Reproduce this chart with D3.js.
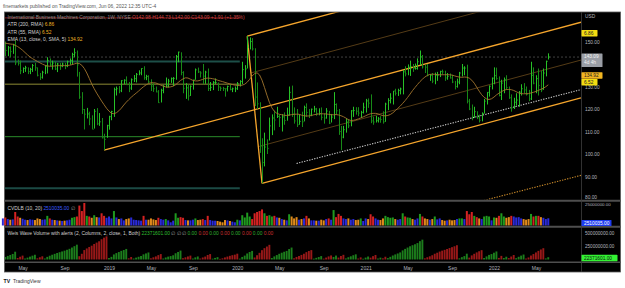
<!DOCTYPE html>
<html><head><meta charset="utf-8">
<script src="https://cdn.jsdelivr.net/npm/d3@7"></script>
<style>html,body{margin:0;padding:0;background:#fff;overflow:hidden}svg{display:block}text{font-family:"Liberation Sans",Arial,sans-serif}</style>
</head><body><svg id="c" width="625" height="288"></svg>
<script>
// ---------------- DATA ----------------
const startWeek = "2018-03-12";
const high2018 = [153.5,150.0,148.0,147.8,149.0,150.5,142.0,141.5,138.5,139.2,138.5,138.3,140.0,140.5,138.5,136.0,137.0,139.5,143.0,142.5,141.5,141.0,140.5,140.5,140.6,140.5,141.5,142.5,145.0,147.0,146.0,136.5,127.5,120.0,120.5,118.8,117.2,120.0,120.4,118.2,116.0,109.0,113.0];
const low2018  = [148.5,143.5,143.5,143.0,144.5,139.5,139.3,135.5,136.0,136.5,135.5,135.5,136.5,137.0,134.5,132.9,133.5,135.5,135.8,139.0,137.5,137.3,136.4,137.4,138.6,137.7,138.6,139.7,140.0,143.0,134.4,124.5,117.8,110.9,115.8,112.8,111.0,111.3,112.8,112.5,106.9,101.7,107.2];
const close2018= [149.5,146.0,147.2,145.5,148.5,140.5,140.3,137.0,138.0,138.3,136.6,137.6,139.3,138.3,135.0,134.1,136.3,139.0,141.6,139.6,140.4,137.8,140.0,139.0,140.0,139.0,141.0,141.6,144.2,145.0,139.6,125.3,119.8,117.7,117.8,115.6,111.0,119.0,113.4,114.3,107.2,106.5,112.6];
const high2019 = [117.0,119.2,129.5,130.0, 130.2,132.8,133.2,134.5, 132.0,133.6,135.1,136.0, 137.2,138.1,139.0,135.2,135.0, 133.2,131.5,130.0,128.4, 129.0,130.6,134.0,133.4, 134.0,134.2,144.0,145.5,145.2, 136.8,131.5,131.0,130.5, 133.0,138.0,138.4,136.8,140.0, 137.0,138.0,132.0,132.4, 133.6,131.8,130.0,129.8, 129.2,130.4,131.0,129.5,130.0];
const low2019  = [110.8,115.0,116.5,126.0, 127.0,127.5,131.0,130.8, 127.5,128.5,132.0,131.8, 135.0,135.0,133.0,132.8,131.5, 128.0,127.6,127.4,122.7, 122.9,127.0,129.5,129.6, 131.6,130.2,133.0,140.8,135.0, 127.0,124.5,123.8,125.8, 128.6,133.0,136.0,134.0,131.0, 131.2,128.0,128.0,128.4, 131.0,128.0,128.0,128.0, 125.5,127.8,128.3,127.5,127.5];
const close2019= [116.6,118.9,128.6,129.0, 128.1,132.6,132.8,130.8, 129.3,133.0,133.5,135.4, 136.0,138.0,133.9,134.5,132.1, 130.2,129.0,127.6,122.8, 128.3,130.1,130.2,132.4, 133.5,133.6,143.3,145.3,136.2, 129.2,129.4,125.8,130.1, 132.9,137.4,136.5,136.0,134.6, 136.4,129.1,129.6,131.8, 131.8,129.8,129.2,129.1, 129.0,130.0,128.7,129.0,129.0];
const high2020 = [132.0,132.8,141.0,139.5, 152.4,151.8,151.5,147.0, 131.8,123.0,107.0,109.5,106.5, 116.2,117.6,119.3,121.0, 117.5,117.7,118.5,120.6, 130.0,130.4,120.7,120.0,117.5, 118.8,121.5,122.5,120.0, 120.2,121.4,120.5,120.3,120.7, 118.0,120.4,119.2,117.8, 127.5,122.5,120.0,112.5, 112.5,115.8,115.5,119.5,121.0, 120.8,120.8,119.2,122.8];
const low2020  = [128.5,130.0,131.0,133.5, 138.0,146.5,146.0,121.3, 120.0,100.5,86.9,94.5,100.0, 106.0,108.4,110.5,116.0, 112.0,110.0,113.0,114.8, 117.0,116.5,113.5,112.0,113.0, 112.0,114.5,116.5,116.0, 116.8,118.5,117.0,117.2,115.0, 113.5,115.7,113.3,114.0, 115.5,117.5,108.5,101.7, 107.0,109.5,111.5,112.3,116.5, 117.5,116.8,116.0,118.0];
const close2020= [131.2,132.2,137.5,137.8, 147.5,150.0,146.7,125.3, 122.3,103.6,96.2,103.1,102.5, 112.5,116.0,115.1,116.7, 116.2,116.5,114.9,117.3, 127.4,117.8,114.7,113.0,114.5, 114.3,120.7,118.5,117.7, 119.9,120.0,118.0,118.0,116.3, 116.0,119.1,113.7,116.4, 122.0,119.2,110.0,107.5, 110.8,114.2,112.5,119.2,119.3, 119.0,118.2,118.5,120.8];
const high2021 = [124.5,124.7,126.5,116.6, 117.0,116.4,116.8,119.0, 122.8,124.8,127.0,128.0,129.0, 129.0,129.5,137.4,139.0, 139.8,141.5,140.0,140.2,142.5, 146.0,144.0,139.7,140.0, 135.5,136.0,136.2,136.5, 137.0,137.5,137.0,136.0,135.8, 135.2,132.5,133.5,136.5, 140.0,139.0,139.7,124.5, 122.0,121.0,119.0,117.5,118.5, 124.5,127.5,130.5,134.0];
const low2021  = [118.4,120.5,113.7,113.0, 114.0,114.0,113.9,113.5, 114.3,119.5,122.5,122.0,126.0, 125.8,126.5,126.5,134.5, 135.0,134.7,136.5,137.5,137.5, 139.5,138.0,136.0,134.5, 132.5,131.5,131.0,132.5, 134.2,135.3,132.5,133.0,133.5, 131.5,128.7,129.5,131.0, 134.5,135.0,122.5,119.5, 115.0,116.0,115.5,114.0,114.5, 118.0,122.0,125.5,128.7];
const close2021= [123.6,122.6,114.7,114.2, 114.8,115.6,115.3,114.3, 122.2,123.8,124.8,128.0,127.0, 128.2,128.9,136.5,135.6, 138.6,138.8,138.0,138.0,141.0, 143.2,138.7,138.6,135.0, 135.0,132.4,135.0,135.0, 136.7,136.5,133.8,134.5,133.8, 132.0,130.0,132.0,136.0, 138.2,138.2,123.5,120.0, 116.8,118.8,116.1,115.0,118.0, 123.5,127.4,130.1,133.7];
const high2022 = [138.5,138.4,134.5,133.0,134.0, 135.0,130.0,126.5,125.0, 127.0,128.0,131.0,131.5, 130.0,128.5,141.0,138.5, 135.0,138.0,137.0,138.0,141.5, 144.73];
const low2022  = [131.0,133.0,125.6,124.0,127.0, 128.5,124.5,118.8,120.0, 121.5,121.0,126.0,127.0, 126.0,123.5,124.0,131.0, 127.0,126.0,127.5,128.5,134.5, 142.00];
const close2022= [134.8,133.5,126.0,131.5,133.0, 129.5,125.0,120.5,123.0, 124.0,127.5,129.0,128.5, 126.5,124.5,135.0,131.5, 133.5,130.5,128.5,136.0,141.2, 143.09];
// weekly volume, millions
const vol2018 = [22,25,20,18,19,42,28,24,21,18, 17,19,18,17,22,20,18,19,30,22, 18,17,16,15,14,15,16,18,24,26, 28,62,45,70,30,28,24,32,26,25, 38,30,24];
const vol2019 = [28,22,45,25, 20,22,16,20, 22,25,18,17, 16,15,30,18,18, 22,19,17,24, 20,18,20,16, 10,15,38,24,26, 24,17,16,16, 18,22,17,18,20, 17,30,17,15, 15,14,12,10, 17,16,14,12,10];
const vol2020 = [18,16,32,25, 40,28,20,38, 42,45,50,38,30, 32,28,30,25, 24,20,18,16, 35,28,22,26,18, 20,22,30,22, 16,16,15,15,18, 16,20,22,18, 48,26,36,30, 22,20,22,18,20, 17,18,22,14];
const vol2021 = [22,20,35,28, 22,18,17,22, 30,26,24,25,20, 18,20,38,28, 25,24,20,18,22, 36,28,22,20, 18,20,28,19, 22,17,15,16,18, 16,17,20,22, 22,20,45,35, 42,30,26,22,20, 28,30,28,16];
const vol2022 = [25,24,30,38,28, 24,26,30,28, 25,26,22,20, 18,20,36,28, 30,30,26,24,20, 22.371601];

const tickDates  = ["2018-05-07","2018-09-03","2019-01-07","2019-05-06","2019-09-02","2020-01-06","2020-05-04","2020-09-07","2021-01-04","2021-05-03","2021-09-06","2022-01-03","2022-05-02"];
const tickLabels = ["May","Sep","2019","May","Sep","2020","May","Sep","2021","May","Sep","2022","May"];
const priceTicks = [80,90,100,110,120,130,150];
const weisTicks  = [250,500];
// drawings
const levelPrices = [160.5,141.1,131.0,107.7,84.8];
const levelEnd = "2020-01-13";
const pitchDates  = ["2018-12-24","2020-02-03","2020-03-16"];
const pitchPrices = [101.7,152.4,86.9];
const dotWhiteDates = ["2020-06-22","2022-05-16"], dotWhitePrices = [95.8,124.0];
const dotOrangeDates = ["2022-01-10","2022-05-16"], dotOrangePrices = [80.8,85.9];
const lastPrice = 143.09, emaLast = 134.92;

// ---------------- BUILD ----------------
const high = [...high2018,...high2019,...high2020,...high2021,...high2022];
const low  = [...low2018,...low2019,...low2020,...low2021,...low2022];
const close= [...close2018,...close2019,...close2020,...close2021,...close2022];
const volume=[...vol2018,...vol2019,...vol2020,...vol2021,...vol2022];
const n = close.length;
const parse = d3.utcParse("%Y-%m-%d");
const s0 = parse(startWeek);
const dates = d3.utcMonday.range(s0, d3.utcDay.offset(s0, 7*n));

const plotL = 5, plotR = 581, priceTop = 12.5, priceBot = 199.5;
const cvdTop = 202, cvdBot = 225.5, weisTop = 228, weisBot = 261;

const x = d3.scaleUtc().domain([parse("2019-01-07"), parse("2022-01-03")]).range([109, 494]);
const y = d3.scaleLinear().domain([80,150]).range([199, 41.5]);
const yC = d3.scaleLinear().domain([0, d3.max(volume)]).range([cvdBot, cvdTop+1]);
const yW = d3.scaleLinear().domain([0, 600]).range([259.5, 227.5]);

// EMA(13) smoothed by SMA(5)
const ema = []; const k = 2/14;
close.forEach((c,i)=> ema.push(i===0 ? c : c*k + ema[i-1]*(1-k)));
const emaS = ema.map((v,i)=> d3.mean(ema.slice(Math.max(0,i-4), i+1)));

// Weis wave (trend detection 2, close)
const weis=[], weisDir=[];
{ let trend=1, wave=1, acc=0, prevMov=0;
  for(let i=0;i<n;i++){
    const mov = i===0?0:(close[i]>close[i-1]?1:(close[i]<close[i-1]?-1:0));
    if(mov!==0 && mov!==prevMov) trend=mov;
    prevMov=mov;
    const rising = i>=2 && close[i]>close[i-1] && close[i-1]>close[i-2];
    const falling= i>=2 && close[i]<close[i-1] && close[i-1]<close[i-2];
    const nw = (trend!==wave && (rising||falling)) ? trend : wave;
    acc = (nw===wave && i>0) ? acc+volume[i] : volume[i];
    wave = nw; weis.push(acc); weisDir.push(wave);
  } }
// CVD colouring
const volAvg = volume.map((v,i)=> d3.mean(volume.slice(Math.max(0,i-19), i+1)));
const cvdColor = i => { const up = i===0 || close[i]>=close[i-1]; const hi = volume[i]>volAvg[i];
  return up ? (hi?"#1f9a1f":"#2a2ad8") : (hi?"#d42222":"#e08a1c"); };

// ---------------- DRAW ----------------
const svg = d3.select("#c");
svg.append("rect").attr("width",625).attr("height",288).attr("fill","#fff");
svg.append("text").attr("x",3).attr("y",8.3).attr("font-size",4.9).attr("fill","#555")
  .text("finemarkets published on TradingView.com, Jun 06, 2022 12:35 UTC-4");
svg.append("rect").attr("x",4.5).attr("y",12).attr("width",616).attr("height",260)
  .attr("fill","#000").attr("stroke","#5a5a5a").attr("stroke-width",0.8);

const defs = svg.append("defs");
defs.append("clipPath").attr("id","cp").append("rect").attr("x",plotL).attr("y",priceTop).attr("width",plotR-plotL).attr("height",priceBot-priceTop);
defs.append("clipPath").attr("id","cw").append("rect").attr("x",plotL).attr("y",weisTop).attr("width",plotR-plotL).attr("height",weisBot-weisTop);

const gP = svg.append("g").attr("clip-path","url(#cp)");
const line = d3.line();

// horizontal levels
const levelColors = ["#a01e1e","#1d4f48","#5e5c22","#2a8a2a","#1b4a44"];
const levelWidths = [0.8,2,1.6,1,2];
levelPrices.forEach((p,i)=>{
  gP.append("line").attr("x1",plotL).attr("x2",x(parse(levelEnd))).attr("y1",y(p)).attr("y2",y(p))
    .attr("stroke",levelColors[i]).attr("stroke-width",levelWidths[i]);
});
// last price line
gP.append("line").attr("x1",plotL).attr("x2",plotR).attr("y1",y(lastPrice)).attr("y2",y(lastPrice))
  .attr("stroke","#5c5c5c").attr("stroke-width",0.7).attr("stroke-dasharray","2,2");

// pitchfork
const P = pitchDates.map((d,i)=>[x(parse(d)), y(pitchPrices[i])]);
const M = [(P[1][0]+P[2][0])/2,(P[1][1]+P[2][1])/2];
const slope = (M[1]-P[0][1])/(M[0]-P[0][0]);
const ray = p => [p,[plotR, p[1]+(plotR-p[0])*slope]];
const lerp = t => [P[1][0]+(P[2][0]-P[1][0])*t, P[1][1]+(P[2][1]-P[1][1])*t];
[lerp(0.25), lerp(0.75)].forEach(q=> gP.append("path").attr("d",line(ray(q))).attr("fill","none").attr("stroke","#5e4218").attr("stroke-width",0.9));
[ray(P[0]), ray(P[1]), ray(P[2]), [P[1],P[2]]].forEach(seg=>
  gP.append("path").attr("d",line(seg)).attr("fill","none").attr("stroke","#f5a52c").attr("stroke-width",1.3));

// dotted rays
function ray2(ds,ps,ext){ const a=[x(parse(ds[0])),y(ps[0])], b=[x(parse(ds[1])),y(ps[1])]; const s=(b[1]-a[1])/(b[0]-a[0]); return [[a[0]-ext,a[1]-ext*s],[plotR,a[1]+(plotR-a[0])*s]]; }
gP.append("path").attr("d",line(ray2(dotWhiteDates,dotWhitePrices,0))).attr("fill","none")
  .attr("stroke","#c8c8c8").attr("stroke-width",1.1).attr("stroke-dasharray","1.3,1.3");
gP.append("path").attr("d",line(ray2(dotOrangeDates,dotOrangePrices,15))).attr("fill","none")
  .attr("stroke","#c98a2a").attr("stroke-width",1.1).attr("stroke-dasharray","1.3,1.3");

// price bars
const bars = gP.append("g");
d3.range(n).forEach(i=>{
  const xb = Math.round(x(dates[i]))+0.5;
  const col = (i===0 || close[i]>=close[i-1]) ? "#27c227" : "#178a17";
  bars.append("line").attr("x1",xb).attr("x2",xb).attr("y1",y(high[i])).attr("y2",y(low[i])).attr("stroke",col).attr("stroke-width",1);
  bars.append("line").attr("x1",xb).attr("x2",xb+1.3).attr("y1",y(close[i])).attr("y2",y(close[i])).attr("stroke",col).attr("stroke-width",0.8);
});
// EMA
gP.append("path").datum(d3.range(n)).attr("fill","none").attr("stroke","#a2752e").attr("stroke-width",0.9)
  .attr("d", d3.line().x(i=>x(dates[i])).y(i=>y(emaS[i])));

// CVD pane
svg.append("g").selectAll("rect").data(d3.range(n)).join("rect")
  .attr("x",i=>x(dates[i])-1).attr("width",2).attr("y",i=>yC(volume[i])).attr("height",i=>cvdBot-yC(volume[i]))
  .attr("fill",cvdColor);
// Weis pane
svg.append("g").attr("clip-path","url(#cw)").selectAll("rect").data(d3.range(n)).join("rect")
  .attr("x",i=>x(dates[i])-1).attr("width",1.9).attr("y",i=>yW(weis[i])).attr("height",i=>yW(0)-yW(weis[i]))
  .attr("fill",i=> weisDir[i]>0 ? "#1c7d1c" : "#981818");

// separators / dividers
[[200.8,2],[226.8,2],[262.2,1.5]].forEach(([yy,w])=> svg.append("line").attr("x1",4.5).attr("x2",620.5).attr("y1",yy).attr("y2",yy).attr("stroke","#4e4e4e").attr("stroke-width",w));
svg.append("line").attr("x1",plotR+0.5).attr("x2",plotR+0.5).attr("y1",12).attr("y2",272).attr("stroke","#3e3e3e").attr("stroke-width",0.8);

// time axis
const gx = svg.append("g").attr("transform","translate(0,262)")
  .call(d3.axisBottom(x).tickValues(tickDates.map(parse)).tickFormat((d,i)=>tickLabels[i]).tickSize(0));
gx.select(".domain").remove();
gx.selectAll("text").attr("font-size",5).attr("fill","#b2b5be").attr("dy","4.8").attr("font-family","Liberation Sans, Arial, sans-serif");

// price axis
const gy = svg.append("g").attr("transform",`translate(${plotR},0)`)
  .call(d3.axisRight(y).tickValues(priceTicks).tickFormat(d3.format(".2f")).tickSize(0));
gy.select(".domain").remove();
gy.selectAll("text").attr("font-size",4.8).attr("fill","#b2b5be").attr("x",4).attr("font-family","Liberation Sans, Arial, sans-serif");
gy.selectAll(".tick").filter(d=>d===80).select("text").attr("dy","-0.1em");
svg.append("text").attr("x",585).attr("y",18).attr("font-size",4.8).attr("fill","#b2b5be").text("USD");

// weis axis
const gw = svg.append("g").attr("transform",`translate(${plotR},0)`)
  .call(d3.axisRight(yW).tickValues(weisTicks).tickFormat(d=>d3.format(".2f")(d*1e6)).tickSize(0));
gw.select(".domain").remove();
gw.selectAll("text").attr("font-size",4.6).attr("fill","#b2b5be").attr("x",4).attr("font-family","Liberation Sans, Arial, sans-serif");
svg.append("text").attr("x",585).attr("y",205.6).attr("font-size",4.4).attr("fill","#b2b5be").text("25000000.00");

// axis value boxes
function box(yc,h,w,fill,txt,tc){
  svg.append("rect").attr("x",plotR+0.5).attr("y",yc-h/2).attr("width",w).attr("height",h).attr("fill",fill).attr("rx",0.6);
  txt.forEach((t,j)=> svg.append("text").attr("x",plotR+3).attr("y",yc-h/2+4.8+j*6).attr("font-size",4.8).attr("fill",tc).text(t));
}
box(33.2,6.4,16,"#f3dc12",["6.86"],"#222");
box(y(lastPrice)+3.2,13.5,21,"#9a9ea5",["143.09","4d 4h"],"#f2f2f2");
box(y(emaLast),6.4,21,"#f2b521",["134.92"],"#222");
box(82.2,6.4,16,"#f3dc12",["6.52"],"#222");
box(223,6.2,30,"#1f3cf0",["2510035.00"],"#fff");
box(258,6.4,36,"#33f233",["22371601.00"],"#111");

// legends
function legend(yb, parts){
  const t = svg.append("text").attr("x",7.5).attr("y",yb).attr("font-size",4.9);
  parts.forEach(([s,c])=> t.append("tspan").attr("fill",c).text(s));
}
legend(18.5,[["International Business Machines Corporation, 1W, NYSE ","#8c8c8c"],["O142.98 H144.73 L142.00 C143.09 +1.91 (+1.35%)","#c84040"]]);
legend(26.1,[["ATR (200, RMA) ","#cfcfcf"],["6.86","#efb324"]]);
legend(33.5,[["ATR (55, RMA) ","#cfcfcf"],["6.52","#efb324"]]);
legend(40.8,[["EMA (13, close, 0, SMA, 5) ","#cfcfcf"],["134.92","#efb324"]]);
legend(209.8,[["CVDLB (10, 20) ","#cfcfcf"],["2510035.00","#3b5bff"],[" \u2205","#9a9a9a"]]);
legend(234.6,[["Weis Wave Volume with alerts (2, Columns, 2, close, 1, Both) ","#cfcfcf"],["22371601.00","#2fbf2f"],[" \u2205 \u2205 \u2205 ","#9a9a9a"],
  ["0.00 ","#2fae2f"],["0.00 ","#c83030"],["0.00 ","#2fae2f"],["0.00 ","#c83030"],["0.00 ","#2fae2f"],["0.00 ","#c83030"],["0.00 ","#2fae2f"],["0.00","#c83030"]]);

// footer
svg.append("text").attr("x",3.5).attr("y",282.5).attr("font-size",5.2).attr("font-weight","bold").attr("fill","#131722").text("TV");
svg.append("text").attr("x",13).attr("y",282.5).attr("font-size",5).attr("fill","#333").text("TradingView");
</script></body></html>
